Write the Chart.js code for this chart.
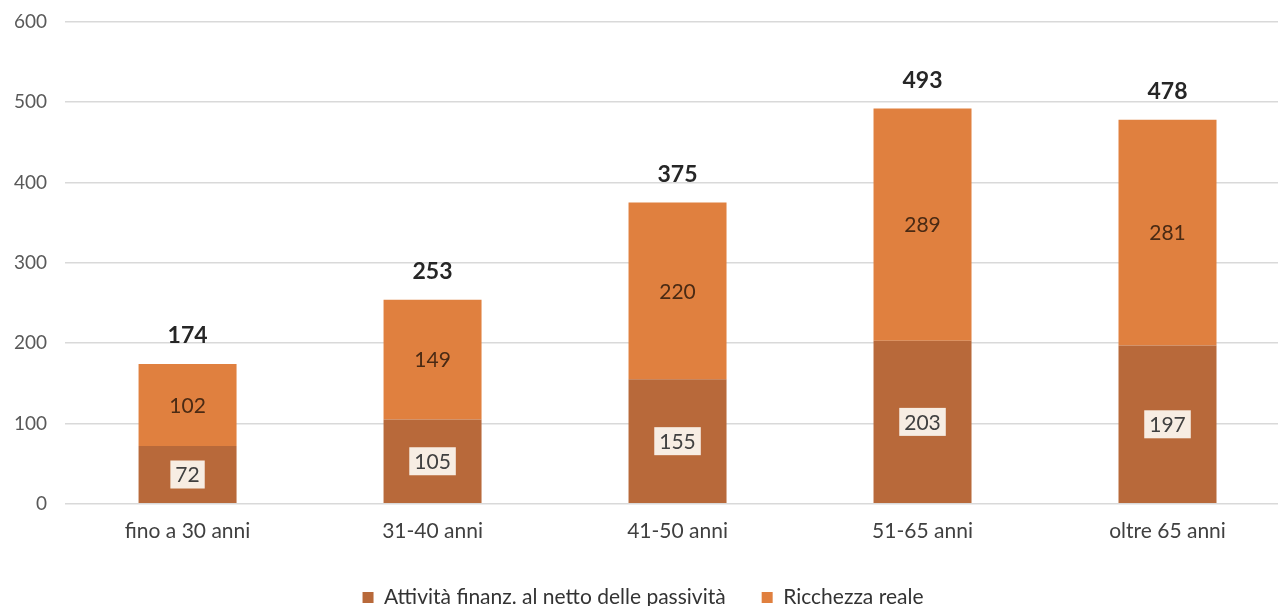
<!DOCTYPE html>
<html>
<head>
<meta charset="utf-8">
<script src="https://cdn.jsdelivr.net/npm/chart.js@4/dist/chart.umd.min.js"></script>
<style>
  html, body { margin: 0; padding: 0; background: #fff; overflow: hidden; }
  #wrap { width: 1290px; height: 606px; }
</style>
</head>
<body>
<div id="wrap"><canvas id="chart"></canvas></div>
<script>
const categories = ["fino a 30 anni", "31-40 anni", "41-50 anni", "51-65 anni", "oltre 65 anni"];
const attivitaFinanz = [72, 105, 155, 203, 197];
const ricchezzaReale = [102, 149, 220, 289, 281];
const totals = [174, 253, 375, 493, 478];
const yTicks = [0, 100, 200, 300, 400, 500, 600];

// labels inside the bars and totals above them
const barLabels = {
  id: "barLabels",
  afterDatasetsDraw(chart) {
    const ctx = chart.ctx;
    ctx.save();
    ctx.textAlign = "center";
    ctx.textBaseline = "middle";

    const bottom = chart.getDatasetMeta(0).data;
    const top = chart.getDatasetMeta(1).data;

    bottom.forEach((bar, i) => {
      const cy = (bar.y + bar.base) / 2;
      const txt = String(attivitaFinanz[i]);
      ctx.font = "21px Lato";
      const w = ctx.measureText(txt).width + 10;
      ctx.fillStyle = "#f7ede3";
      ctx.fillRect(bar.x - w / 2, cy - 14, w, 28);
      ctx.fillStyle = "#404040";
      ctx.fillText(txt, bar.x, cy + 1);
    });

    top.forEach((bar, i) => {
      const cy = (bar.y + bar.base) / 2;
      ctx.font = "21px Lato";
      ctx.fillStyle = "#4a2a14";
      ctx.fillText(String(ricchezzaReale[i]), bar.x, cy + 1);

      ctx.font = "bold 23px Lato";
      ctx.fillStyle = "#262626";
      ctx.fillText(String(totals[i]), bar.x, bar.y - 28);
    });
    ctx.restore();
  }
};

new Chart(document.getElementById("chart"), {
  type: "bar",
  data: {
    labels: categories,
    datasets: [
      {
        label: "Attività finanz. al netto delle passività",
        data: attivitaFinanz,
        backgroundColor: "#b8693a"
      },
      {
        label: "Ricchezza reale",
        data: ricchezzaReale,
        backgroundColor: "#e0803f"
      }
    ]
  },
  options: {
    responsive: true,
    maintainAspectRatio: false,
    animation: false,
    layout: { padding: { top: 0, left: -4, right: 0, bottom: -12 } },
    datasets: {
      bar: { barPercentage: 0.4, categoryPercentage: 1.0 }
    },
    scales: {
      x: {
        stacked: true,
        grid: { display: false },
        border: { display: false },
        ticks: { color: "#404040", font: { family: "Lato", size: 21 }, padding: 7 }
      },
      y: {
        stacked: true,
        min: 0,
        max: 600,
        afterBuildTicks: axis => { axis.ticks = yTicks.map(v => ({ value: v })); },
        grid: { color: "#d9d9d9", lineWidth: 1.5, drawTicks: false },
        border: { display: false },
        ticks: { color: "#595959", font: { family: "Lato", size: 19, lineHeight: 0.4 }, padding: 18 }
      }
    },
    plugins: {
      legend: {
        position: "bottom",
        labels: {
          color: "#333333",
          font: { family: "Lato", size: 21 },
          boxWidth: 11,
          boxHeight: 11,
          padding: 36
        }
      },
      tooltip: { enabled: false }
    }
  },
  plugins: [barLabels]
});
</script>
</body>
</html>
